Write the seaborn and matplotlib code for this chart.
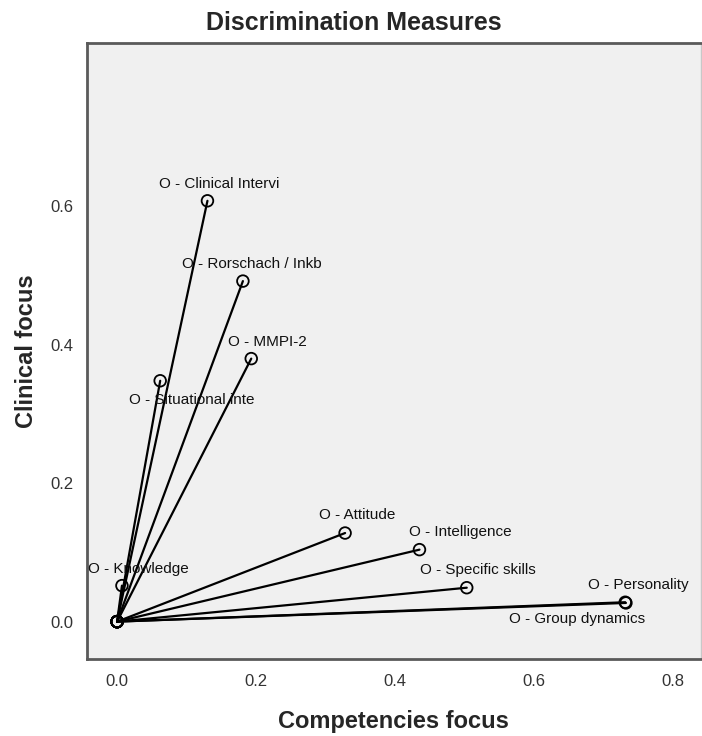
import numpy as np
import pandas as pd
import seaborn as sns
import matplotlib
matplotlib.use("Agg")
import matplotlib.pyplot as plt

# Discrimination measures (dimension 1 = competencies, dimension 2 = clinical)
variables = ["O - Clinical Intervi", "O - Rorschach / Inkb", "O - MMPI-2",
             "O - Situational inte", "O - Knowledge", "O - Attitude",
             "O - Intelligence", "O - Specific skills", "O - Personality",
             "O - Group dynamics"]
competencies = [0.130, 0.181, 0.193, 0.062, 0.007, 0.328, 0.435, 0.503, 0.732, 0.731]
clinical = [0.608, 0.492, 0.380, 0.348, 0.052, 0.128, 0.104, 0.049, 0.027, 0.028]
x_ticks = [0.0, 0.2, 0.4, 0.6, 0.8]
y_ticks = [0.0, 0.2, 0.4, 0.6]

# where each label sits relative to its point (pixels)
label_offsets = [(-48, 13), (-61, 13.5), (-23, 13), (-31, -23), (-34, 13),
                 (-26, 14), (-10, 13.5), (-47, 14), (-38, 14), (-116, -20.5)]

df = pd.DataFrame({"variable": variables, "dim1": competencies, "dim2": clinical})

# long table: origin + point for each variable, to draw the vectors
origen = pd.DataFrame({"variable": variables, "dim1": 0.0, "dim2": 0.0})
vectores = pd.concat([origen, df], ignore_index=True)

sns.set_style("white")
plt.rcParams["font.family"] = ["Liberation Sans", "DejaVu Sans"]

fig = plt.figure(figsize=(7.02, 7.36), dpi=100)
ax = fig.add_axes([86.5 / 702, 1 - 659 / 736, (701 - 86.5) / 702, (659 - 43) / 736])
ax.set_facecolor("#f0f0f0")

sns.lineplot(data=vectores, x="dim1", y="dim2", units="variable", estimator=None,
             sort=False, color="black", lw=1.6, ax=ax, legend=False)
sns.scatterplot(data=vectores, x="dim1", y="dim2", marker="o", s=70,
                facecolor="none", edgecolor="black", linewidth=1.3, ax=ax,
                legend=False, zorder=3)

for (_, row), (dx, dy) in zip(df.iterrows(), label_offsets):
    ax.annotate(row["variable"], (row["dim1"], row["dim2"]), xytext=(dx, dy),
                textcoords="offset pixels", ha="left", va="baseline",
                fontsize=11, color="#111111")

ax.set_xlim(-0.044, 0.840)
ax.set_ylim(-0.054, 0.836)
ax.set_xticks(x_ticks)
ax.set_yticks(y_ticks)
ax.set_xticklabels([f"{t:.1f}" for t in x_ticks])
ax.set_yticklabels([f"{t:.1f}" for t in y_ticks])
ax.tick_params(axis="both", direction="out", length=7, width=1.3, color="#555555",
               labelsize=12, labelcolor="#333333", pad=2.5)
ax.tick_params(axis="x", pad=4)

for lado in ["left", "top", "bottom"]:
    ax.spines[lado].set_color("#5a5a5a")
    ax.spines[lado].set_linewidth(2)
ax.spines["right"].set_color("#c8c8c8")
ax.spines["right"].set_linewidth(1)

ax.set_xlabel("Competencies focus", fontsize=17, fontweight="bold", labelpad=15)
ax.set_ylabel("Clinical focus", fontsize=17, fontweight="bold", labelpad=9)

fig.text(354 / 702, 1 - 23 / 736, "Discrimination Measures", ha="center", va="center",
         fontsize=18, fontweight="bold")

fig.savefig("out.png", dpi=100)
